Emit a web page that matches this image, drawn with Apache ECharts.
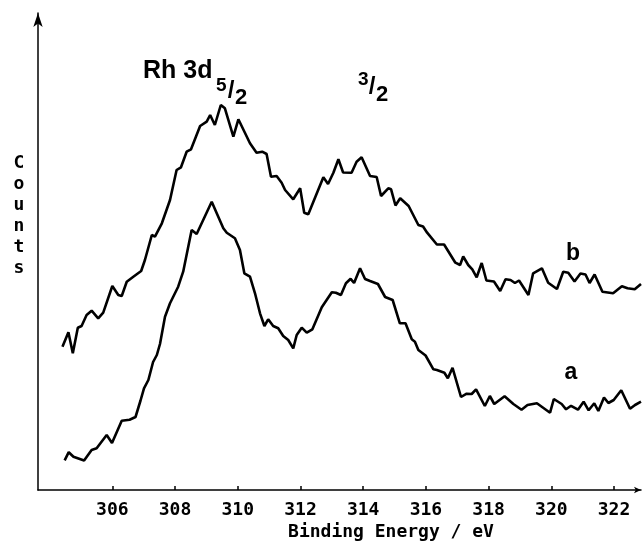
<!DOCTYPE html>
<html>
<head>
<meta charset="utf-8">
<script src="https://cdn.jsdelivr.net/npm/echarts@6/dist/echarts.min.js"></script>
<style>html,body{margin:0;padding:0;background:#fff}#c{width:642px;height:548px}</style>
</head>
<body>
<div id="c"></div>
<script>
// Binding energy tick labels (eV)
const xTicks = [306, 308, 310, 312, 314, 316, 318, 320, 322];

// Spectrum b (upper)
const bEnergy = [304.41,304.60,304.74,304.90,305.02,305.18,305.34,305.55,305.71,306.00,306.19,306.30,306.46,306.67,306.92,307.04,307.26,307.36,307.58,307.84,308.05,308.19,308.37,308.51,308.80,309.01,309.12,309.27,309.46,309.59,309.86,310.02,310.39,310.60,310.78,310.92,311.06,311.24,311.40,311.51,311.77,311.99,312.12,312.25,312.73,312.88,313.05,313.21,313.36,313.63,313.79,313.95,314.22,314.43,314.57,314.80,314.89,315.03,315.18,315.45,315.76,315.91,316.04,316.35,316.58,316.94,317.09,317.19,317.35,317.48,317.62,317.78,317.93,318.17,318.37,318.54,318.70,318.84,318.97,319.27,319.42,319.70,319.90,320.18,320.38,320.54,320.74,320.93,321.09,321.22,321.38,321.63,321.97,322.25,322.43,322.66,322.86];
const bCounts = [143.3,157.7,136.7,162.3,164,175,179.3,171.7,177.3,204,195,194,208.3,213.3,219,230,255,253.3,266.7,290,320,322.7,338.3,340.7,364,368.3,375,365,385,381.7,353.3,370.7,346.7,337.3,338.3,336,313.3,314,307.3,300,290.7,301.7,277.3,275.7,312.7,306,317.3,330.7,317.5,317.3,328.3,332.7,314,313,294,301.7,300.7,284.5,291.7,284,265,263.5,257.3,245.5,245.5,227.3,225,233.5,225,220.7,212.7,227,209.5,208.5,199,210.7,210,207,209.5,195,216.7,221.7,207.3,201,218.3,217.3,208.5,216.5,215.5,207,215.5,198.3,196.7,203.7,201.7,200.7,206];

// Spectrum a (lower)
const aEnergy = [304.48,304.61,304.76,305.10,305.34,305.50,305.82,305.99,306.30,306.55,306.74,306.90,307.01,307.15,307.30,307.42,307.52,307.68,307.84,308.10,308.26,308.53,308.69,309.17,309.33,309.54,309.65,309.91,310.07,310.21,310.39,310.55,310.71,310.85,310.97,311.13,311.29,311.45,311.61,311.77,311.88,312.04,312.20,312.38,312.68,313.00,313.13,313.29,313.45,313.60,313.71,313.90,314.06,314.22,314.47,314.70,314.94,315.17,315.35,315.55,315.65,315.76,315.99,316.24,316.35,316.59,316.70,316.85,317.12,317.30,317.46,317.60,317.88,318.04,318.18,318.51,318.79,319.05,319.24,319.54,319.96,320.08,320.33,320.47,320.63,320.85,321.03,321.19,321.37,321.50,321.68,321.82,321.99,322.23,322.51,322.67,322.86];
const aCounts = [29.7,37.8,33.3,29.5,40,41.7,55,47,69.3,70.3,73,89.5,101.7,110,128,135,146,173.3,186.7,203.3,218.3,260,256,288.3,276.7,261.7,257.3,251.7,240,216.7,213.3,196.7,176.7,164,170.7,164,161.7,154,150,141.7,155,162.3,157.3,160.7,182.7,197.8,197.3,195,206.7,211.2,207,221.7,211,209,206,193,190,166.7,166.7,150.7,148.3,140,134.5,120.7,120,117.3,111.7,122.2,93,96.3,96,100.7,84,94,86,93.7,86,80.3,85,86.7,77.3,91,86,80.7,84.2,80.3,88.3,79.7,86.7,79,92.5,87,90,99.7,81.2,85,88.3];

const pair = (xs, ys) => xs.map((x, i) => [x, ys[i]]);
const mono = '"DejaVu Sans Mono", monospace';
const sans = '"Liberation Sans", Arial, sans-serif';

const chart = echarts.init(document.getElementById('c'), null, {renderer: 'canvas'});
chart.setOption({
  backgroundColor: '#fff',
  animation: false,
  grid: {left: 38, right: 1, top: 13, bottom: 58},
  xAxis: {
    type: 'value', min: 303.63, max: 322.86,
    axisLine: {show: true, lineStyle: {color: '#000', width: 1.5}, symbol: ['none', 'arrow'], symbolSize: [5, 7]},
    axisTick: {show: true, inside: true, length: 4, lineStyle: {color: '#000', width: 1.5}, customValues: xTicks},
    axisLabel: {show: true, color: '#000', fontFamily: mono, fontWeight: 'bold', fontSize: 18, margin: 11, customValues: xTicks},
    splitLine: {show: false}
  },
  yAxis: {
    type: 'value', min: 0, max: 477,
    axisLine: {show: true, lineStyle: {color: '#000', width: 1.5}, symbol: ['none', 'arrow'], symbolSize: [7, 14]},
    axisTick: {show: false}, axisLabel: {show: false}, splitLine: {show: false}
  },
  series: [
    {name: 'b', type: 'line', data: pair(bEnergy, bCounts), showSymbol: false, lineStyle: {color: '#000', width: 2.6}, z: 3},
    {name: 'a', type: 'line', data: pair(aEnergy, aCounts), showSymbol: false, lineStyle: {color: '#000', width: 2.6}, z: 3}
  ],
  graphic: [
    {type: 'text', x: 391, y: 532, style: {text: 'Binding Energy / eV', fill: '#000', font: 'bold 18px ' + mono, textAlign: 'center', textVerticalAlign: 'middle'}},
    {type: 'text', x: 19, y: 153, style: {text: 'C\no\nu\nn\nt\ns', fill: '#000', font: 'bold 18px ' + mono, textAlign: 'center', textVerticalAlign: 'top', lineHeight: 21}},
    {type: 'text', x: 143, y: 71, style: {text: 'Rh 3d', fill: '#000', font: 'bold 25px ' + sans, textAlign: 'left', textVerticalAlign: 'middle'}},
    {type: 'text', x: 216, y: 86, style: {text: '5', fill: '#000', font: 'bold 19px ' + sans, textAlign: 'left', textVerticalAlign: 'middle'}},
    {type: 'text', x: 231, y: 91, style: {text: '/', fill: '#000', font: 'bold 24px ' + sans, textAlign: 'center', textVerticalAlign: 'middle'}},
    {type: 'text', x: 235, y: 98, style: {text: '2', fill: '#000', font: 'bold 22px ' + sans, textAlign: 'left', textVerticalAlign: 'middle'}},
    {type: 'text', x: 358, y: 80, style: {text: '3', fill: '#000', font: 'bold 19px ' + sans, textAlign: 'left', textVerticalAlign: 'middle'}},
    {type: 'text', x: 372, y: 87, style: {text: '/', fill: '#000', font: 'bold 24px ' + sans, textAlign: 'center', textVerticalAlign: 'middle'}},
    {type: 'text', x: 376, y: 95, style: {text: '2', fill: '#000', font: 'bold 22px ' + sans, textAlign: 'left', textVerticalAlign: 'middle'}},
    {type: 'text', x: 573, y: 254, style: {text: 'b', fill: '#000', font: 'bold 23px ' + sans, textAlign: 'center', textVerticalAlign: 'middle'}},
    {type: 'text', x: 571, y: 373, style: {text: 'a', fill: '#000', font: 'bold 23px ' + sans, textAlign: 'center', textVerticalAlign: 'middle'}}
  ]
});
</script>
</body>
</html>
